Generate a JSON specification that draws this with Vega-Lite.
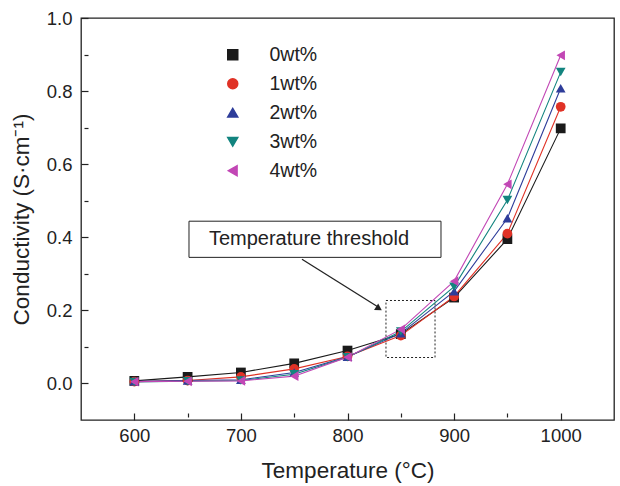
{
  "$schema": "https://vega.github.io/schema/vega-lite/v6.json",
  "width": 533,
  "height": 402,
  "autosize": "none",
  "padding": {"left": 81, "top": 18, "right": 6, "bottom": 66},
  "background": "white",
  "config": {
    "font": "Liberation Sans",
    "view": {"stroke": "#222222", "strokeWidth": 1.3},
    "axis": {
      "grid": false,
      "domain": false,
      "zindex": 1,
      "tickColor": "#222222",
      "tickWidth": 1.2,
      "labelColor": "#222222",
      "labelFontSize": 18.5,
      "titleColor": "#222222",
      "titleFontSize": 22.5,
      "titleFontWeight": "normal",
      "labelFont": "Liberation Sans",
      "titleFont": "Liberation Sans"
    }
  },
  "data": {
    "values": [
      {"temp": 600, "value": 0.007, "series": "0wt%"},
      {"temp": 650, "value": 0.018, "series": "0wt%"},
      {"temp": 700, "value": 0.030, "series": "0wt%"},
      {"temp": 750, "value": 0.055, "series": "0wt%"},
      {"temp": 800, "value": 0.090, "series": "0wt%"},
      {"temp": 850, "value": 0.135, "series": "0wt%"},
      {"temp": 900, "value": 0.235, "series": "0wt%"},
      {"temp": 950, "value": 0.395, "series": "0wt%"},
      {"temp": 1000, "value": 0.698, "series": "0wt%"},
      {"temp": 600, "value": 0.005, "series": "1wt%"},
      {"temp": 650, "value": 0.008, "series": "1wt%"},
      {"temp": 700, "value": 0.018, "series": "1wt%"},
      {"temp": 750, "value": 0.040, "series": "1wt%"},
      {"temp": 800, "value": 0.074, "series": "1wt%"},
      {"temp": 850, "value": 0.131, "series": "1wt%"},
      {"temp": 900, "value": 0.238, "series": "1wt%"},
      {"temp": 950, "value": 0.410, "series": "1wt%"},
      {"temp": 1000, "value": 0.757, "series": "1wt%"},
      {"temp": 600, "value": 0.006, "series": "2wt%"},
      {"temp": 650, "value": 0.008, "series": "2wt%"},
      {"temp": 700, "value": 0.010, "series": "2wt%"},
      {"temp": 750, "value": 0.030, "series": "2wt%"},
      {"temp": 800, "value": 0.073, "series": "2wt%"},
      {"temp": 850, "value": 0.137, "series": "2wt%"},
      {"temp": 900, "value": 0.252, "series": "2wt%"},
      {"temp": 950, "value": 0.452, "series": "2wt%"},
      {"temp": 1000, "value": 0.808, "series": "2wt%"},
      {"temp": 600, "value": 0.004, "series": "3wt%"},
      {"temp": 650, "value": 0.006, "series": "3wt%"},
      {"temp": 700, "value": 0.008, "series": "3wt%"},
      {"temp": 750, "value": 0.025, "series": "3wt%"},
      {"temp": 800, "value": 0.072, "series": "3wt%"},
      {"temp": 850, "value": 0.142, "series": "3wt%"},
      {"temp": 900, "value": 0.265, "series": "3wt%"},
      {"temp": 950, "value": 0.502, "series": "3wt%"},
      {"temp": 1000, "value": 0.852, "series": "3wt%"},
      {"temp": 600, "value": 0.005, "series": "4wt%"},
      {"temp": 650, "value": 0.006, "series": "4wt%"},
      {"temp": 700, "value": 0.007, "series": "4wt%"},
      {"temp": 750, "value": 0.020, "series": "4wt%"},
      {"temp": 800, "value": 0.072, "series": "4wt%"},
      {"temp": 850, "value": 0.148, "series": "4wt%"},
      {"temp": 900, "value": 0.280, "series": "4wt%"},
      {"temp": 950, "value": 0.545, "series": "4wt%"},
      {"temp": 1000, "value": 0.898, "series": "4wt%"}
    ]
  },
  "layer": [
    {
      "mark": {"type": "line", "strokeWidth": 1.1},
      "encoding": {
        "x": {
          "field": "temp", "type": "quantitative",
          "scale": {"domain": [550, 1050], "nice": false, "zero": false},
          "axis": {
            "title": "Temperature (°C)",
            "values": [600, 650, 700, 750, 800, 850, 900, 950, 1000],
            "labelExpr": "datum.value % 100 === 0 ? datum.label : ''",
            "format": "d",
            "offset": -7,
            "tickSize": {"condition": {"test": "datum.value % 100 === 0", "value": 7}, "value": 4},
            "labelPadding": 6,
            "titlePadding": 15
          }
        },
        "y": {
          "field": "value", "type": "quantitative",
          "scale": {"domain": [-0.1, 1.0], "nice": false, "zero": false},
          "axis": {
            "title": "Conductivity (S·cm⁻¹)",
            "values": [0, 0.1, 0.2, 0.3, 0.4, 0.5, 0.6, 0.7, 0.8, 0.9, 1.0],
            "labelExpr": "round(datum.value * 10) % 2 === 0 ? format(datum.value, '.1f') : ''",
            "offset": -7,
            "tickSize": {"condition": {"test": "round(datum.value * 10) % 2 === 0", "value": 7}, "value": 4},
            "labelPadding": 9,
            "titlePadding": 13
          }
        },
        "color": {
          "field": "series", "type": "nominal",
          "scale": {"domain": ["0wt%", "1wt%", "2wt%", "3wt%", "4wt%"],
                    "range": ["#1a1a1a", "#e03226", "#2e3d9a", "#12847f", "#c247b5"]},
          "legend": {
            "title": null,
            "orient": "none",
            "legendX": 142,
            "legendY": 27,
            "padding": 0,
            "symbolSize": 100,
            "labelOffset": 27,
            "labelFontSize": 19.5,
            "labelColor": "#222222",
            "labelFont": "Liberation Sans",
            "rowPadding": 8
          }
        },
        "detail": {"field": "series"}
      }
    },
    {
      "mark": {"type": "point", "filled": true, "opacity": 1, "size": 95},
      "encoding": {
        "x": {"field": "temp", "type": "quantitative"},
        "y": {"field": "value", "type": "quantitative"},
        "color": {"field": "series", "type": "nominal"},
        "shape": {
          "field": "series", "type": "nominal",
          "scale": {"domain": ["0wt%", "1wt%", "2wt%", "3wt%", "4wt%"],
                    "range": ["square", "circle", "triangle-up", "triangle-down", "triangle-left"]}
        }
      }
    },
    {
      "data": {"values": [{}]},
      "mark": {"type": "rect", "fill": "white", "stroke": "#222222", "strokeWidth": 1},
      "encoding": {
        "x": {"datum": 651.3, "type": "quantitative"},
        "x2": {"datum": 887.7},
        "y": {"datum": 0.444, "type": "quantitative"},
        "y2": {"datum": 0.345}
      }
    },
    {
      "data": {"values": [{}]},
      "mark": {"type": "text", "text": "Temperature threshold", "fontSize": 20, "color": "#222222", "font": "Liberation Sans", "align": "left", "baseline": "middle"},
      "encoding": {
        "x": {"datum": 670, "type": "quantitative"},
        "y": {"datum": 0.396, "type": "quantitative"}
      }
    },
    {
      "data": {"values": [{}]},
      "mark": {"type": "rect", "fill": null, "fillOpacity": 0, "stroke": "#222222", "strokeWidth": 1, "strokeDash": [2, 2]},
      "encoding": {
        "x": {"datum": 836.1, "type": "quantitative"},
        "x2": {"datum": 882.1},
        "y": {"datum": 0.227, "type": "quantitative"},
        "y2": {"datum": 0.071}
      }
    },
    {
      "data": {"values": [{}]},
      "mark": {"type": "rule", "stroke": "#222222", "strokeWidth": 1.3},
      "encoding": {
        "x": {"datum": 757.3, "type": "quantitative"},
        "x2": {"datum": 829.5},
        "y": {"datum": 0.340, "type": "quantitative"},
        "y2": {"datum": 0.208}
      }
    },
    {
      "data": {"values": [{}]},
      "mark": {"type": "point", "shape": "triangle-right", "filled": true, "color": "#222222", "opacity": 1, "size": 60, "angle": 32.5},
      "encoding": {
        "x": {"datum": 829.5, "type": "quantitative"},
        "y": {"datum": 0.205, "type": "quantitative"}
      }
    }
  ]
}
